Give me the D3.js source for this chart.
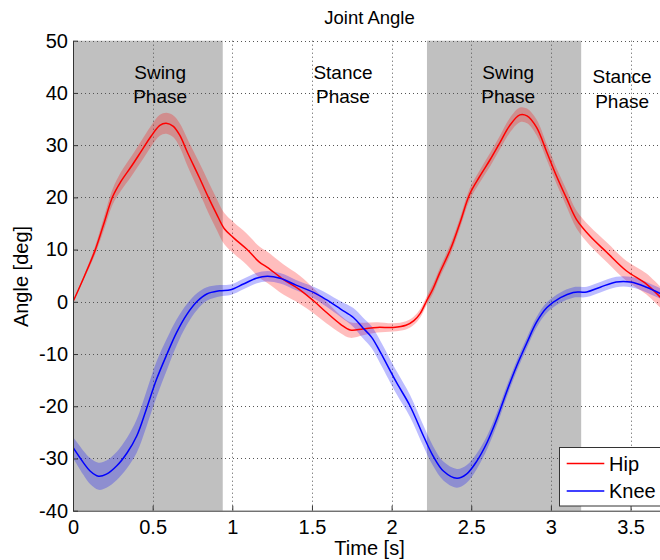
<!DOCTYPE html>
<html>
<head>
<meta charset="utf-8">
<script src="https://cdn.jsdelivr.net/npm/d3@7"></script>
<style>
  html, body { margin: 0; padding: 0; background: #fff; }
  svg { display: block; }
  text { font-family: "Liberation Sans", Arial, sans-serif; fill: #000; }
</style>
</head>
<body>
<svg id="chart" width="660" height="560"></svg>
<script>
// Hip flexion angle: mean and standard deviation over time
const hipTime = [0, 0.07, 0.138, 0.19, 0.25, 0.30, 0.37, 0.43, 0.49, 0.545, 0.585, 0.63, 0.67, 0.72, 0.79, 0.85, 0.90, 0.95, 1.01, 1.09, 1.17, 1.22, 1.32, 1.42, 1.51, 1.59, 1.68, 1.74, 1.82, 1.91, 2.01, 2.09, 2.14, 2.18, 2.22, 2.26, 2.30, 2.37, 2.43, 2.49, 2.555, 2.62, 2.68, 2.74, 2.805, 2.85, 2.91, 2.975, 3.035, 3.10, 3.16, 3.245, 3.35, 3.475, 3.60, 3.72];
const hipMean = [0, 4.8, 9.8, 14.6, 20.2, 23.0, 26.1, 28.9, 31.7, 33.8, 34.2, 33.6, 31.9, 28.5, 24.0, 20.0, 16.9, 14.0, 12.2, 10.1, 7.6, 6.6, 4.3, 2.4, 0.2, -2.0, -4.3, -5.4, -5.2, -4.9, -4.9, -4.5, -3.6, -2.2, 0.2, 2.5, 5.4, 10.1, 15.2, 20.6, 24.1, 27.3, 30.5, 33.7, 35.8, 35.6, 33.4, 28.6, 24.1, 19.7, 15.8, 12.6, 9.5, 5.9, 3.4, -0.2];
const hipSD   = [0.1, 0.4, 0.8, 1.2, 1.5, 1.8, 1.9, 2.0, 2.0, 2.0, 2.0, 2.1, 2.3, 2.6, 2.8, 3.0, 3.0, 3.0, 3.0, 3.0, 3.0, 3.0, 2.9, 2.7, 2.4, 2.1, 1.7, 1.5, 1.2, 1.0, 0.8, 0.8, 0.8, 0.8, 0.8, 0.9, 0.9, 1.0, 1.0, 1.1, 1.2, 1.3, 1.3, 1.4, 1.4, 1.4, 1.5, 1.5, 1.5, 1.6, 1.7, 1.8, 1.9, 1.9, 2.0, 2.0];

// Knee flexion angle: mean and standard deviation over time
const kneeTime = [0, 0.065, 0.107, 0.16, 0.21, 0.275, 0.34, 0.40, 0.46, 0.525, 0.59, 0.65, 0.715, 0.78, 0.84, 0.92, 0.99, 1.07, 1.15, 1.22, 1.30, 1.40, 1.51, 1.59, 1.68, 1.76, 1.82, 1.875, 1.93, 2.03, 2.115, 2.20, 2.26, 2.325, 2.41, 2.47, 2.535, 2.60, 2.66, 2.72, 2.785, 2.85, 2.91, 2.975, 3.06, 3.14, 3.225, 3.31, 3.41, 3.50, 3.60, 3.72];
const kneeMean = [-27.9, -30.8, -32.4, -33.4, -33.0, -31.4, -28.9, -25.7, -20.6, -14.8, -10.0, -5.9, -2.4, 0.1, 1.5, 2.1, 2.3, 3.4, 4.5, 4.9, 4.5, 3.2, 1.8, 0.4, -1.4, -3.0, -5.0, -6.8, -9.7, -15.4, -19.9, -25.7, -29.5, -32.4, -33.8, -33.0, -30.5, -26.9, -22.5, -17.4, -12.3, -7.8, -3.9, -1.1, 0.8, 1.8, 1.9, 2.8, 3.8, 3.8, 2.8, 1.1];
const kneeSD   = [2.0, 2.3, 2.5, 2.6, 2.6, 2.7, 2.9, 3.2, 3.4, 3.4, 3.0, 2.5, 2.0, 1.6, 1.3, 1.1, 1.0, 1.0, 1.0, 1.0, 1.0, 1.0, 1.1, 1.3, 1.5, 1.8, 2.0, 2.1, 2.2, 2.2, 2.1, 2.0, 1.9, 1.8, 1.8, 1.7, 1.5, 1.3, 1.2, 1.1, 1.0, 1.0, 1.0, 1.0, 1.0, 1.0, 1.0, 1.0, 1.0, 1.0, 1.0, 1.0];

// Gait phases (seconds) and their labels
const swingStart = [0, 2.222];
const swingEnd   = [0.94, 3.19];
const phaseNames = ["Swing", "Stance", "Swing", "Stance"];
const phaseTime  = [0.547, 1.695, 2.732, 3.447];
const phaseAngle = [42.7, 42.7, 42.7, 41.9];

// Axis ticks
const xTicks = [0, 0.5, 1, 1.5, 2, 2.5, 3, 3.5];
const yTicks = [-40, -30, -20, -10, 0, 10, 20, 30, 40, 50];

const seriesNames  = ["Hip", "Knee"];
const seriesColors = ["#ff0000", "#0000ff"];

const svg = d3.select("#chart");
const x = d3.scaleLinear().domain([0, 3.72]).range([73, 665.6]);
const y = d3.scaleLinear().domain([-40, 50]).range([510.7, 40.7]);

// Swing phase shading
svg.append("g").selectAll("rect")
  .data(swingStart.map((s, i) => ({ s, e: swingEnd[i] })))
  .join("rect")
  .attr("x", d => x(d.s))
  .attr("y", y(50))
  .attr("width", d => x(d.e) - x(d.s))
  .attr("height", y(-40) - y(50))
  .attr("fill", "#c0c0c0");

// Dotted grid
const grid = svg.append("g")
  .attr("stroke", "#555")
  .attr("stroke-width", 1)
  .attr("stroke-dasharray", "1,3");
grid.selectAll("line.v").data(xTicks.filter(d => d > 0)).join("line")
  .attr("class", "v")
  .attr("x1", d => Math.round(x(d)) + 0.5).attr("x2", d => Math.round(x(d)) + 0.5)
  .attr("y1", y(50)).attr("y2", y(-40));
grid.selectAll("line.h").data(yTicks.filter(d => d > -40)).join("line")
  .attr("class", "h")
  .attr("y1", d => Math.round(y(d)) + 0.5).attr("y2", d => Math.round(y(d)) + 0.5)
  .attr("x1", x(0)).attr("x2", x(3.72));

// Mean ± SD bands and mean lines
const series = [
  { t: hipTime, m: hipMean, s: hipSD },
  { t: kneeTime, m: kneeMean, s: kneeSD }
].map((d, i) => ({
  name: seriesNames[i],
  color: seriesColors[i],
  pts: d.t.map((t, j) => ({ t, m: d.m[j], s: d.s[j] }))
}));

const defs = svg.append("defs");
defs.append("clipPath").attr("id", "plotClip")
  .append("rect").attr("x", x(0)).attr("y", y(50))
  .attr("width", x(3.72) - x(0)).attr("height", y(-40) - y(50));
defs.append("filter").attr("id", "soft")
  .append("feGaussianBlur").attr("stdDeviation", 0.7);

const band = d3.area()
  .x(d => x(d.t))
  .y0(d => y(d.m - d.s))
  .y1(d => y(d.m + d.s))
  .curve(d3.curveCatmullRom);
const line = d3.line()
  .x(d => x(d.t))
  .y(d => y(d.m))
  .curve(d3.curveCatmullRom);

const plot = svg.append("g").attr("clip-path", "url(#plotClip)");
plot.append("g").attr("filter", "url(#soft)")
  .selectAll("path").data(series).join("path")
  .attr("d", d => band(d.pts))
  .attr("fill", d => d.color)
  .attr("fill-opacity", 0.26);
plot.append("g").selectAll("path").data(series).join("path")
  .attr("d", d => line(d.pts))
  .attr("fill", "none")
  .attr("stroke", d => d.color)
  .attr("stroke-width", 1.5);

// Axes with inward ticks
const xAxis = svg.append("g")
  .attr("transform", `translate(0,${y(-40)})`)
  .call(d3.axisBottom(x).tickValues(xTicks).tickFormat(d => String(d))
    .tickSizeInner(-5).tickSizeOuter(0).tickPadding(9));
const yAxis = svg.append("g")
  .attr("transform", `translate(${x(0)},0)`)
  .call(d3.axisLeft(y).tickValues(yTicks).tickFormat(d => String(d))
    .tickSizeInner(-5).tickSizeOuter(0).tickPadding(5));
[xAxis, yAxis].forEach(a => {
  a.selectAll("path, line").attr("stroke", "#333");
  a.selectAll("text").attr("font-size", 20).attr("fill", "#111")
    .attr("font-family", "Liberation Sans, Arial, sans-serif");
});

// Phase labels
const labels = svg.append("g").attr("text-anchor", "middle").attr("font-size", 19);
phaseNames.forEach((n, i) => {
  const t = labels.append("text")
    .attr("x", x(phaseTime[i]))
    .attr("y", y(phaseAngle[i]));
  t.append("tspan").attr("x", x(phaseTime[i])).text(n);
  t.append("tspan").attr("x", x(phaseTime[i])).attr("dy", 24.5).text("Phase");
});

// Title and axis labels
svg.append("text").attr("x", 369.5).attr("y", 24)
  .attr("text-anchor", "middle").attr("font-size", 18.5).text("Joint Angle");
svg.append("text").attr("x", 369.5).attr("y", 555)
  .attr("text-anchor", "middle").attr("font-size", 20).text("Time [s]");
svg.append("text")
  .attr("transform", "translate(28,276.5) rotate(-90)")
  .attr("text-anchor", "middle").attr("font-size", 20).text("Angle [deg]");

// Legend
const legend = svg.append("g");
legend.append("rect")
  .attr("x", 559.5).attr("y", 447.5).attr("width", 110).attr("height", 58.5)
  .attr("fill", "#fff").attr("stroke", "#333").attr("stroke-width", 1);
series.forEach((s, i) => {
  const ly = 463.5 + i * 27.4;
  legend.append("line")
    .attr("x1", 566.7).attr("x2", 604.3).attr("y1", ly).attr("y2", ly)
    .attr("stroke", s.color).attr("stroke-width", 1.5);
  legend.append("text")
    .attr("x", 609).attr("y", ly).attr("dy", "0.36em")
    .attr("font-size", 20).text(s.name);
});
</script>
</body>
</html>
